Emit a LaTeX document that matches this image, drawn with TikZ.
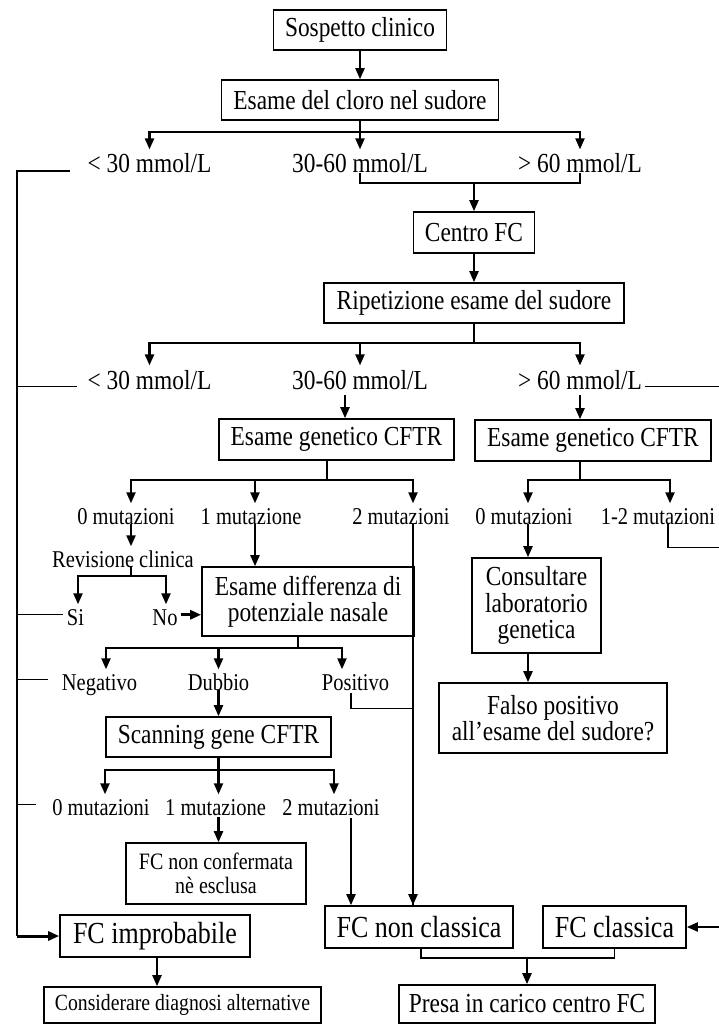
\documentclass[tikz,border=0pt]{standalone}
\usepackage{fontspec}
\setmainfont{Liberation Serif}[FakeStretch=0.85]
\usetikzlibrary{arrows.meta}

\begin{document}
\begin{tikzpicture}[x=1pt,y=-1pt,
  box/.style={draw,line width=1.6pt,align=center,inner sep=0pt,font=\fontsize{27.5}{26.5}\selectfont},
  big/.style={box,font=\fontsize{30.6}{30}\selectfont},
  small/.style={box,font=\fontsize{23.5}{24}\selectfont},
  lbl/.style={anchor=base,inner sep=0pt,text depth=0pt,text height=20.5pt,font=\fontsize{24.1}{24}\selectfont},
  lblbig/.style={lbl,text height=23.4pt,font=\fontsize{27.5}{27}\selectfont},
  arr/.style={line width=2.2pt,-{Triangle[length=11pt,width=9pt]}},
  bar/.style={line width=2.2pt},
  link/.style={line width=1.2pt},
  bigarr/.style={line width=3pt,-{Triangle[length=11pt,width=9pt]}}]
\useasboundingbox (0,0) rectangle (719,1024);
\coordinate (rail) at (17,0);
\coordinate (railR) at (719.5,0);

\node[box,minimum width=173pt,minimum height=40pt] (sospetto) at (360,30) {Sospetto clinico};
\node[box,minimum width=277pt,minimum height=40pt] (cloro) at (360,100) {Esame del cloro nel sudore};
\node[lblbig] (lowA) at (149.5,173) {< 30 mmol/L};
\node[lblbig] (midA) at (360,173) {30-60 mmol/L};
\node[lblbig] (highA) at (580,173) {> 60 mmol/L};
\node[box,minimum width=121pt,minimum height=41pt] (centro) at (474,232.5) {Centro FC};
\node[box,minimum width=300pt,minimum height=40pt] (ripet) at (474,303) {Ripetizione esame del sudore};
\node[lblbig] (lowB) at (149.5,389) {< 30 mmol/L};
\node[lblbig] (midB) at (360,389) {30-60 mmol/L};
\node[lblbig] (highB) at (580,389) {> 60 mmol/L};
\node[box,minimum width=235pt,minimum height=41pt] (genL) at (336.5,439.5) {Esame genetico CFTR};
\node[box,minimum width=236pt,minimum height=41pt] (genR) at (593,440.5) {Esame genetico CFTR};
\node[lbl] (mutA0) at (126,524) {0 mutazioni};
\node[lbl] (mutA1) at (251,524) {1 mutazione};
\node[lbl] (mutA2) at (401,524) {2 mutazioni};
\node[lbl] (mutB0) at (524,524) {0 mutazioni};
\node[lbl] (mutB12) at (658,524) {1-2 mutazioni};
\node[lbl] (revis) at (123,567) {Revisione clinica};
\node[lbl] (si) at (75.5,625) {Si};
\node[lbl] (no) at (165,625) {No};
\node[box,minimum width=212pt,minimum height=69pt] (diff) at (308,601.5) {Esame differenza di\\potenziale nasale};
\node[box,minimum width=129pt,minimum height=95pt] (consult) at (536.5,605.5) {Consultare\\laboratorio\\genetica};
\node[lbl] (neg) at (99.5,690) {Negativo};
\node[lbl] (dubbio) at (218.5,690) {Dubbio};
\node[lbl] (pos) at (355.5,690) {Positivo};
\node[box,minimum width=228pt,minimum height=70pt] (falso) at (553,718) {Falso positivo\\all’esame del sudore?};
\node[box,minimum width=225pt,minimum height=40pt] (scan) at (218.5,737) {Scanning gene CFTR};
\node[lbl] (scanA) at (101,815) {0 mutazioni};
\node[lbl] (scanB) at (215.5,815) {1 mutazione};
\node[lbl] (scanC) at (331,815) {2 mutazioni};
\node[small,minimum width=180pt,minimum height=61pt] (nonconf) at (216,873.5) {FC non confermata\\nè esclusa};
\node[big,minimum width=190pt,minimum height=42pt] (improb) at (155,936) {FC improbabile};
\node[big,minimum width=188pt,minimum height=42pt] (nonclass) at (419,927) {FC non classica};
\node[big,minimum width=143pt,minimum height=42pt] (class) at (614.5,927) {FC classica};
\node[box,minimum width=256pt,minimum height=38pt] (presa) at (527,1004) {Presa in carico centro FC};
\node[small,font=\fontsize{23.2}{22}\selectfont,minimum width=277pt,minimum height=36pt] (consid) at (182.5,1005) {Considerare diagnosi alternative};

\draw[arr] (sospetto) -- (cloro);
\draw[bar] (cloro.south) -- ++(0,11) coordinate (b1);
\draw[arr] (b1) -| (lowA.north);
\draw[arr] (b1) -- (midA.north);
\draw[arr] (b1) -| (highA.north);
\coordinate (joinA) at (474,183);
\draw[link] (midA.south) |- (joinA) -| (highA.south);
\draw[arr] (joinA) -- (centro);
\draw[arr] (centro) -- (ripet);
\draw[link] (ripet.south) -- ++(0,19) coordinate (b2);
\draw[arr] (b2) -| (lowB.north);
\draw[arr] (b2) -| (midB.north);
\draw[arr] (b2) -| (highB.north);

\draw[link,line width=1.8pt] ([xshift=-18pt]lowA.mid west) -- (lowA.mid west -| rail) -- (rail |- improb.west);
\draw[bigarr] (rail |- improb.west) -- (improb.west);
\draw[link] ([xshift=-11pt]lowB.mid west) -- (lowB.mid west -| rail);
\draw[link] ([xshift=-4pt]si.west) -- (si.west -| rail);
\draw[link] ([xshift=-14pt]neg.west) -- (neg.west -| rail);
\draw[link] ([xshift=-16pt]scanA.west) -- (scanA.west -| rail);

\draw[link] ([xshift=3pt]highB.mid east) -- (highB.mid east -| railR) -- (railR |- class.east);
\draw[arr] (railR |- class.east) -- (class.east);

\draw[arr] ([xshift=-15pt,yshift=-6pt]midB.south) -- ([xshift=8.5pt]genL.north);
\draw[arr] ([yshift=-6pt]highB.south) -- ([xshift=-13pt]genR.north);

\draw[link] ([xshift=-9.5pt]genL.south) -- ++(0,19) coordinate (b3);
\draw[arr] (b3) -| ([xshift=5pt]mutA0.north);
\draw[arr] (b3) -| ([xshift=4pt]mutA1.north);
\draw[arr] (b3) -| ([xshift=12pt]mutA2.north);
\draw[link] ([xshift=-13pt]genR.south) -- ++(0,18) coordinate (b4);
\draw[arr] (b4) -| ([xshift=4pt]mutB0.north);
\draw[arr] (b4) -| ([xshift=12pt]mutB12.north);

\draw[arr] ([xshift=5pt]mutA0.south) -- ([xshift=8pt]revis.north);
\draw[link] ([xshift=8pt]revis.south) -- ++(0,9) coordinate (b5);
\draw[arr] (b5) -| ([xshift=2.5pt]si.north);
\draw[arr] (b5) -| ([xshift=1pt]no.north);
\draw[bigarr] ([xshift=3pt]no.east) -- (no.east -| diff.west);
\draw[arr] ([xshift=4pt]mutA1.south) -- ([xshift=-53pt]diff.north);
\draw[arr] ([xshift=12pt]mutA2.south) -- ([xshift=-6pt]nonclass.north);

\draw[link] ([xshift=-10pt]diff.south) -- ++(0,11) coordinate (b6);
\draw[arr] (b6) -| ([xshift=6.5pt]neg.north);
\draw[arr] (b6) -| (dubbio.north);
\draw[arr] (b6) -| ([xshift=-13.5pt]pos.north);
\draw[arr] (dubbio.south) -- (scan.north);
\draw[link] ([xshift=-4.5pt,yshift=-3pt]pos.south) -- ++(0,15) -| ([xshift=-6pt]nonclass.north);

\draw[bar] (scan.south) -- ++(0,12) coordinate (b7);
\draw[arr] (b7) -| ([xshift=4pt]scanA.north);
\draw[arr] (b7) -| ([xshift=3pt]scanB.north);
\draw[arr] (b7) -| ([xshift=3pt]scanC.north);
\draw[arr] ([xshift=3pt,yshift=-2pt]scanB.south) -- ([xshift=2.5pt]nonconf.north);
\draw[arr] ([xshift=20pt,yshift=-3pt]scanC.south) -- ([xshift=-68pt]nonclass.north);

\draw[arr] ([xshift=4pt]mutB0.south) -- ([xshift=-8.5pt]consult.north);
\draw[arr] ([xshift=-8.5pt]consult.south) -- ([xshift=-25pt]falso.north);
\draw[link] ([xshift=10pt]mutB12.south) -- ++(0,23) coordinate (c1) -- (c1 -| railR);

\coordinate (joinB) at (527,958);
\draw[link] ([xshift=2pt]nonclass.south) |- (joinB) -| (class.south);
\draw[arr] (joinB) -- (presa);
\draw[arr] ([xshift=2pt]improb.south) -- ([xshift=-25.5pt]consid.north);
\end{tikzpicture}
\end{document}
